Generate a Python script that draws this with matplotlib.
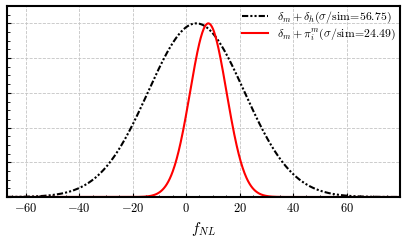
import numpy as np
import matplotlib
matplotlib.use("Agg")
import matplotlib.pyplot as plt
from matplotlib.ticker import MultipleLocator

plt.rcParams['mathtext.fontset'] = 'cm'
plt.rcParams['font.family'] = 'DejaVu Serif'

# Gaussian parameters (mean, width), peaks normalised to 1
labels = [r'$\delta_m+\delta_h(\sigma/{\rm sim}\!=\!56.75)$',
          r'$\delta_m+\pi_i^m(\sigma/{\rm sim}\!=\!24.49)$']
means = [3.8, 8.3]
widths = [18.0, 6.8]
colors = ['black', 'red']
styles = [(0, (3, 1, 1, 1, 1, 1)), '-']

x = np.linspace(-67, 80, 800)

fig = plt.figure(figsize=(4.07, 2.41), dpi=100)
ax = fig.add_axes([7/407, 1 - 197/241, 393/407, 191/241])

for lab, m, w, c, ls in zip(labels, means, widths, colors, styles):
    y = np.exp(-0.5 * ((x - m) / w) ** 2)
    ax.plot(x, y, color=c, ls=ls, lw=1.5, label=lab)

ax.set_xlim(-67, 80)
ax.set_ylim(0, 1.1)
ax.xaxis.set_major_locator(MultipleLocator(20))
ax.xaxis.set_minor_locator(MultipleLocator(5))
ax.yaxis.set_major_locator(MultipleLocator(0.2))
ax.yaxis.set_minor_locator(MultipleLocator(0.05))
ax.tick_params(which='both', direction='in', top=False, right=False, labelsize=9)
ax.tick_params(which='major', length=3, width=0.8)
ax.tick_params(which='minor', length=1.8, width=0.6)
ax.tick_params(axis='y', labelleft=False)
ax.set_xticks([-60, -40, -20, 0, 20, 40, 60])
ax.set_xticklabels([r'$-60$', r'$-40$', r'$-20$', r'$0$', r'$20$', r'$40$', r'$60$'])
ax.grid(True, which='major', ls='--', color='#c4c4c4', lw=0.6)
for s in ax.spines.values():
    s.set_linewidth(1.5)
ax.set_xlabel(r'$f_{NL}$', fontsize=11)
leg = ax.legend(loc='upper right', frameon=False, fontsize=8.5, handlelength=2.2,
                borderaxespad=0.0, borderpad=0.3, handletextpad=0.8,
                labelspacing=0.2)
fig.savefig('out.png', dpi=100)
